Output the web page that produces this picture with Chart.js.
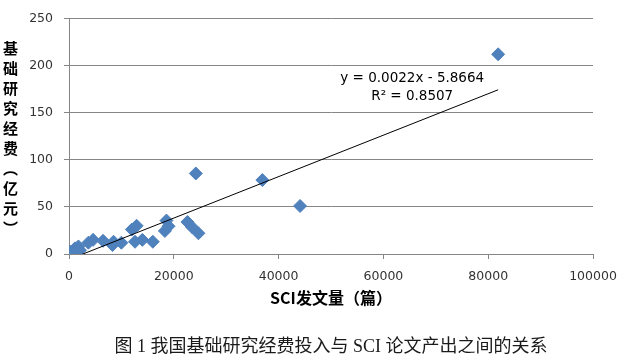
<!DOCTYPE html>
<html>
<head>
<meta charset="utf-8">
<script src="https://cdn.jsdelivr.net/npm/chart.js@4.4.0/dist/chart.umd.min.js"></script>
<style>
body{margin:0;background:#fff;}
#wrap{position:relative;width:622px;height:361px;}
#ytitle{position:absolute;left:3px;top:41px;writing-mode:vertical-rl;font:bold 15px "Noto Sans CJK SC";letter-spacing:5px;line-height:15px;color:#000;}
</style>
</head>
<body>
<div id="wrap">
<canvas id="scatterChart" width="622" height="361"></canvas>
<div id="ytitle">基础研究经费（亿元）</div>
</div>
<script>
// SCI papers (x) vs basic research funds, 100m yuan (y)
var sciPapers = [200, 700, 1150, 1800, 2100, 3700, 4600, 6500, 8300, 8500, 10000, 12000, 12900, 12600, 14000, 16000, 18300, 18600, 19000, 22600, 23500, 24700, 24200, 36900, 44100, 81900];
var researchFunds = [2.4, 1, 6, 8, 4, 12, 15, 14, 9.5, 13, 12, 26, 30, 13, 15, 13, 24.5, 35.5, 29.5, 34, 28.5, 22, 85.5, 78.5, 51, 212];

var xTicks = [0, 20000, 40000, 60000, 80000, 100000];
var yTicks = [0, 50, 100, 150, 200, 250];

// excel linear trendline
var slope = 0.0022;
var intercept = -5.8664;
var eqText = ['y = 0.0022x - 5.8664', 'R\u00b2 = 0.8507'];
var eqX = 65500;
var eqY = [186, 167];

var caption = '图 1 我国基础研究经费投入与 SCI 论文产出之间的关系';
var xTitle = 'SCI发文量（篇）';

var pts = [];
for (var i = 0; i < sciPapers.length; i++) {
	pts.push({x: sciPapers[i], y: researchFunds[i]});
}
var xmin = Math.min.apply(null, sciPapers);
var xmax = Math.max.apply(null, sciPapers);
var trend = [
	{x: xmin, y: slope * xmin + intercept},
	{x: xmax, y: slope * xmax + intercept}
];

var gridCol = '#868686';

var eqLabel = {
	id: 'eqLabel',
	afterDatasetsDraw: function(chart) {
		var ctx = chart.ctx;
		var xs = chart.scales.x, ys = chart.scales.y;
		ctx.save();
		ctx.font = '13.5px "DejaVu Sans"';
		ctx.fillStyle = '#000';
		ctx.textAlign = 'center';
		ctx.textBaseline = 'middle';
		for (var k = 0; k < eqText.length; k++) {
			ctx.fillText(eqText[k], xs.getPixelForValue(eqX), ys.getPixelForValue(eqY[k]));
		}
		ctx.restore();
	}
};

var ctxS = document.getElementById('scatterChart').getContext('2d');
var myChart = new Chart(ctxS, {
	type: 'scatter',
	data: {
		datasets: [
			{
				type: 'line',
				data: trend,
				borderColor: '#000',
				borderWidth: 1,
				pointRadius: 0,
				fill: false
			},
			{
				data: pts,
				pointStyle: 'rectRot',
				pointRadius: 6.5,
				pointBorderWidth: 1,
				backgroundColor: '#4F81BD',
				borderColor: '#4F81BD'
			}
		]
	},
	options: {
		responsive: false,
		animation: false,
		layout: {padding: {left: 0, top: 16.5, right: 29, bottom: 0}},
		plugins: {
			legend: {display: false},
			tooltip: {enabled: false},
			title: {
				display: true,
				position: 'bottom',
				fullSize: false,
				text: caption,
				color: '#1a1a1a',
				font: {family: '"Liberation Serif", "Noto Sans CJK SC"', size: 18, weight: 'normal'},
				padding: {top: 0, bottom: 3}
			}
		},
		scales: {
			x: {
				type: 'linear',
				min: 0,
				max: 100000,
				afterBuildTicks: function(s) { s.ticks = xTicks.map(function(v){ return {value: v}; }); },
				afterFit: function(s) { s.height = 82.4; s.paddingLeft = 0; s.paddingRight = 0; },
				grid: {display: true, drawOnChartArea: false, drawTicks: true, tickLength: 5, color: gridCol},
				border: {display: true, color: gridCol},
				ticks: {
					maxRotation: 0,
					autoSkip: false,
					padding: 10,
					color: '#333',
					font: {family: '"DejaVu Sans"', size: 12.5},
					callback: function(v) { return String(v); }
				},
				title: {
					display: true,
					text: xTitle,
					color: '#000',
					font: {family: '"Noto Sans CJK SC"', size: 16, weight: 'bold'},
					padding: {top: 0, bottom: 28.8}
				}
			},
			y: {
				min: 0,
				max: 250,
				afterBuildTicks: function(s) { s.ticks = yTicks.map(function(v){ return {value: v}; }); },
				afterFit: function(s) { s.width = 69; },
				grid: {color: gridCol, tickLength: 5},
				border: {display: true, color: gridCol},
				ticks: {
					padding: 11,
					color: '#333',
					font: {family: '"DejaVu Sans"', size: 12.5}
				}
			}
		}
	},
	plugins: [eqLabel]
});
</script>
</body>
</html>
